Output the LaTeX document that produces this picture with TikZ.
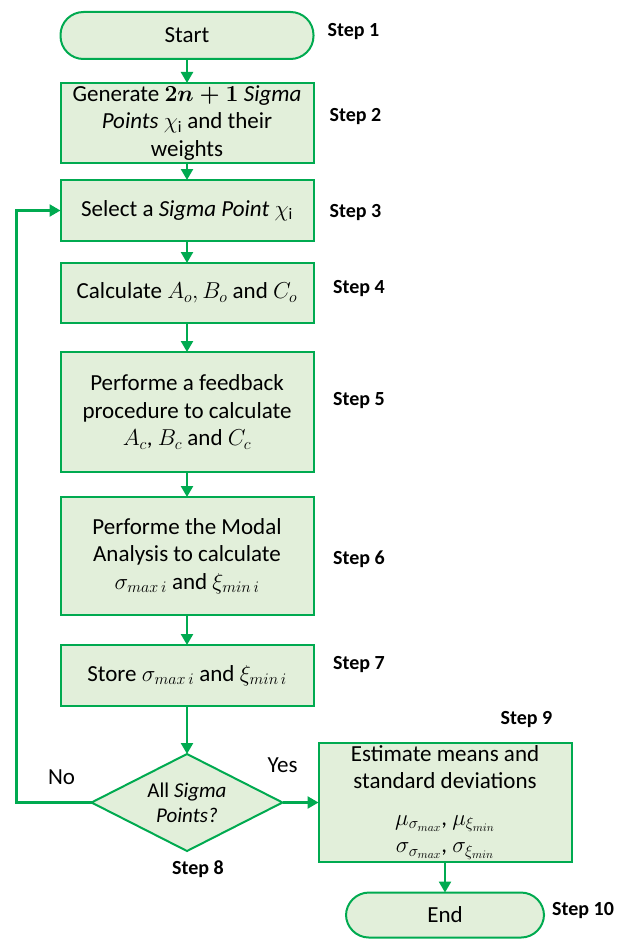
\RequirePackage{fix-cm}
\documentclass[tikz,border=0pt]{standalone}
\usepackage{amsmath,amssymb}
\usepackage{fontspec}
\setmainfont{Carlito}
\definecolor{boxfill}{RGB}{226,239,218}
\definecolor{flowgreen}{RGB}{0,170,80}
\usetikzlibrary{shapes.geometric, arrows.meta, positioning}

\begin{document}
\begin{tikzpicture}[x=1pt, y=-1pt,
    process/.style={rectangle, draw=flowgreen, fill=boxfill, line width=2pt,
                    minimum width=253pt, inner sep=2pt, outer sep=0pt, align=center,
                    font=\fontsize{23}{27.5}\selectfont},
    terminal/.style={process, rounded corners=23pt, minimum height=47pt},
    decision/.style={diamond, aspect=2, draw=flowgreen, fill=boxfill, line width=2pt,
                     minimum width=191pt, minimum height=97pt, inner sep=0pt, outer sep=0pt,
                     align=center, font=\fontsize{21}{25}\selectfont},
    steplbl/.style={font=\fontsize{20}{24}\selectfont\bfseries, inner sep=0pt},
    lbl/.style={font=\fontsize{23}{27}\selectfont, inner sep=0pt},
    arrow/.style={-{Triangle[length=11pt,width=12pt]}, draw=flowgreen, line width=2.4pt}
]
\useasboundingbox (0,0) rectangle (617,939);

% main column
\node[terminal] (start) at (187,35.5) {Start};
\node[process, minimum height=80pt, below=24pt of start] (gen)
    {Generate $\boldsymbol{2n+1}$ \textit{Sigma}\\\textit{Points} $\chi_{\mathrm{i}}$ and their\\weights};
\node[process, minimum height=61pt, below=17pt of gen] (sel)
    {Select a \textit{Sigma Point} $\chi_{\mathrm{i}}$};
\node[process, minimum height=60pt, below=22pt of sel] (calc)
    {Calculate $A_o, B_o$ and $C_o$};
\node[process, minimum height=120pt, below=29pt of calc] (fb)
    {Performe a feedback\\procedure to calculate\\$A_c$, $B_c$ and $C_c$};
\node[process, minimum height=118pt, below=25pt of fb] (modal)
    {Performe the Modal\\Analysis to calculate\\$\sigma_{max\,i}$ and $\xi_{min\,i}$};
\node[process, minimum height=61pt, below=30pt of modal] (store)
    {Store $\sigma_{max\,i}$ and $\xi_{min\,i}$};
\node[decision, below=48pt of store] (dia) {All \textit{Sigma}\\\textit{Points?}};
\node[process, minimum height=118pt, right=36pt of dia] (est)
    {Estimate means and\\standard deviations\\[9pt]$\mu_{\sigma_{max}}$, $\mu_{\xi_{min}}$\\$\sigma_{\sigma_{max}}$, $\sigma_{\xi_{min}}$};
\node[terminal, minimum width=198pt, minimum height=45pt, below=31pt of est] (endn) {End};

% step labels
\node[steplbl, right=14pt of start, yshift=3.5pt] (s1) {Step 1};
\node[steplbl, right=16pt of gen, yshift=6pt] (s2) {Step 2};
\node[steplbl, right=16pt of sel, yshift=-2.5pt] (s3) {Step 3};
\node[steplbl, right=19.5pt of calc, yshift=4pt] (s4) {Step 4};
\node[steplbl, right=19.5pt of fb, yshift=11pt] (s5) {Step 5};
\node[steplbl, right=19.5pt of modal, yshift=-3pt] (s6) {Step 6};
\node[steplbl, right=19.5pt of store, yshift=10.5pt] (s7) {Step 7};
\node[steplbl] (s8) at ([xshift=11pt,yshift=-18pt]dia.south) {Step 8};
\node[steplbl] (s9) at ([xshift=-45pt,yshift=24pt]est.north east) {Step 9};
\node[steplbl, right=8pt of endn, yshift=4.5pt] (s10) {Step 10};

\node[lbl] (no) at ([xshift=-30pt,yshift=25pt]dia.west) {No};
\node[lbl] (yes) at ([yshift=37pt]dia.east) {Yes};

% connectors
\draw[arrow] (start) -- (gen);
\draw[arrow] (gen) -- (sel);
\draw[arrow] (sel) -- (calc);
\draw[arrow] (calc) -- (fb);
\draw[arrow] (fb) -- (modal);
\draw[arrow] (modal) -- (store);
\draw[arrow] (store) -- (dia);
\draw[arrow] (dia) -- (est);
\draw[arrow] (est) -- (endn);
\draw[arrow] (dia.west) -- ++(-75pt,0) |- (sel.west);
\end{tikzpicture}
\end{document}
